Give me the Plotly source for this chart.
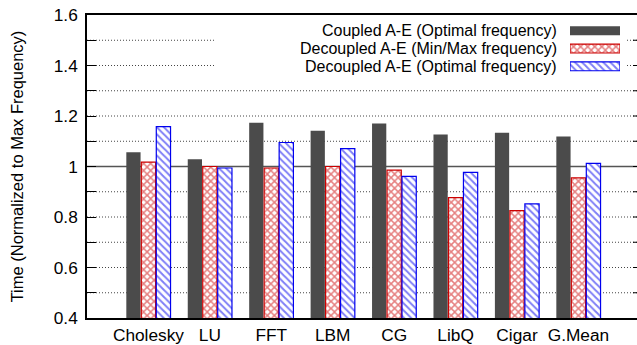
import plotly.graph_objects as go

# Benchmarks and normalized execution times
categories = ["Cholesky", "LU", "FFT", "LBM", "CG", "LibQ", "Cigar", "G.Mean"]
coupled_opt = [1.056, 1.029, 1.173, 1.142, 1.170, 1.127, 1.134, 1.119]
decoupled_minmax = [1.017, 1.000, 0.994, 1.000, 0.986, 0.877, 0.825, 0.955]
decoupled_opt = [1.158, 0.994, 1.095, 1.071, 0.961, 0.977, 0.852, 1.012]

series_names = [
    "Coupled A-E (Optimal frequency)",
    "Decoupled A-E (Min/Max frequency)",
    "Decoupled A-E (Optimal frequency)",
]

W, H = 637, 345
ML, MR, MT, MB = 87, 0, 15, 23
PW, PH = W - ML - MR, H - MT - MB
FONT = "Liberation Sans, Arial, Helvetica, sans-serif"
FS = 17.3
KEY_FS = 16

DARK = "#4b4b4b"
RED = "#cc0000"
BLUE = "#0000ee"


def px_x(p):
    return (p - ML) / PW


def px_y(p):
    return (H - MB - p) / PH


xs = list(range(len(categories)))
bw = 0.232
step = 0.244

styles = [
    dict(color=DARK, line=dict(width=0)),
    dict(color="white", line=dict(color=RED, width=1.2),
         pattern=dict(shape="x", fgcolor=RED, bgcolor="white", size=5, solidity=0.5)),
    dict(color="white", line=dict(color=BLUE, width=1.2),
         pattern=dict(shape="\\", fgcolor=BLUE, bgcolor="white", size=5, solidity=0.4)),
]

fig = go.Figure()
for i, (vals, st) in enumerate(zip([coupled_opt, decoupled_minmax, decoupled_opt], styles)):
    fig.add_trace(go.Bar(
        x=xs, y=vals, width=bw, offset=(i - 1) * step - bw / 2,
        marker=st, name=series_names[i], showlegend=False,
        hoverinfo="x+y",
    ))

# Key swatches on their own small axes, to the right of the key text
for i, st in enumerate(styles):
    fig.add_trace(go.Bar(
        x=[1], y=[i], base=0, orientation="h", width=0.5,
        marker=st, xaxis="x2", yaxis="y2", showlegend=False, hoverinfo="skip",
    ))

fig.update_layout(
    width=W, height=H,
    margin=dict(l=ML, r=MR, t=MT, b=MB, pad=0),
    paper_bgcolor="white", plot_bgcolor="white",
    barmode="overlay",
    font=dict(family=FONT, size=FS, color="black"),
    xaxis=dict(
        range=[-1, -1 + PW / 61.43],
        tickvals=xs, ticktext=categories,
        showgrid=False, zeroline=False,
        showline=True, linecolor="black", linewidth=1.5, mirror=True,
        ticks="", tickfont=dict(size=FS),
    ),
    yaxis=dict(
        range=[0.4, 1.6], tick0=0.4, dtick=0.2,
        showline=True, linecolor="black", linewidth=1.5,
        ticks="inside", ticklen=9, tickwidth=1, tickcolor="black",
        showgrid=False, zeroline=False, tickfont=dict(size=FS),
        ticklabelstandoff=4,
        minor=dict(dtick=0.1, tick0=0.4, ticks="inside", ticklen=9,
                   tickwidth=1, tickcolor="black", showgrid=False),
        title=dict(text="Time (Normalized to Max Frequency)",
                   font=dict(size=16.5), standoff=26),
    ),
    xaxis2=dict(domain=[px_x(570), px_x(620)], range=[0, 1], anchor="y2",
                visible=False, fixedrange=True),
    yaxis2=dict(domain=[px_y(76), px_y(22)], range=[2.5, -0.5], anchor="x2",
                visible=False, fixedrange=True),
)

GRID = dict(color="#444", width=1, dash="1px,2px")
shapes = []
# dotted grid every 0.1; the two rows behind the key are interrupted
for k in range(1, 12):
    v = round(0.4 + 0.1 * k, 2)
    if v in (1.4, 1.5):
        segs = [(0, px_x(215)), (px_x(627), 1)]
    else:
        segs = [(0, 1)]
    for a, b in segs:
        shapes.append(dict(type="line", xref="paper", yref="y",
                           x0=a, x1=b, y0=v, y1=v, line=GRID, layer="below"))
# reference line at 1.0
shapes.append(dict(type="line", xref="paper", yref="y", x0=0, x1=1, y0=1.0, y1=1.0,
                   line=dict(color="#555", width=1.5), layer="below"))
# right-hand inward ticks
for k in range(1, 12):
    v = 0.4 + 0.1 * k
    shapes.append(dict(type="line", xref="paper", yref="y",
                       x0=px_x(633), x1=1, y0=v, y1=v,
                       line=dict(color="black", width=1), layer="above"))
fig.update_layout(shapes=shapes)

# Key text, right-aligned next to the swatches
for i, name in enumerate(series_names):
    fig.add_annotation(
        text=name, xref="paper", yref="paper",
        x=px_x(559), y=px_y(31 + 18 * i),
        xanchor="right", yanchor="middle", showarrow=False,
        font=dict(size=KEY_FS, color="black"),
    )

fig.write_html("out.html")
